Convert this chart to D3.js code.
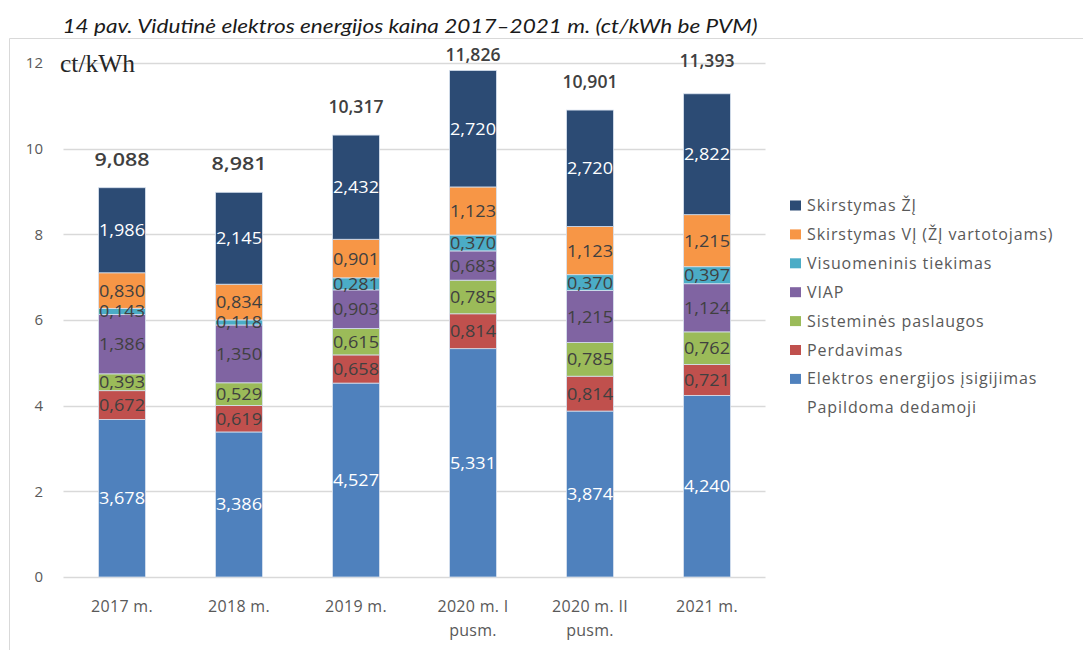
<!DOCTYPE html>
<html><head><meta charset="utf-8">
<script src="https://cdn.jsdelivr.net/npm/d3@7"></script>
<style>body{margin:0;background:#fff}svg{display:block}</style>
</head><body>
<svg id="c" width="1083" height="650"></svg>
<script>
const categories = ["2017 m.", "2018 m.", "2019 m.", "2020 m. I|pusm.", "2020 m. II|pusm.", "2021 m."];
const seriesNames = ["Elektros energijos įsigijimas", "Perdavimas", "Sisteminės paslaugos", "VIAP", "Visuomeninis tiekimas", "Skirstymas VĮ (ŽĮ vartotojams)", "Skirstymas ŽĮ", "Papildoma dedamoji"];
const elektros   = [3.678, 3.386, 4.527, 5.331, 3.874, 4.240];
const perdavimas = [0.672, 0.619, 0.658, 0.814, 0.814, 0.721];
const sistemines = [0.393, 0.529, 0.615, 0.785, 0.785, 0.762];
const viap       = [1.386, 1.350, 0.903, 0.683, 1.215, 1.124];
const visuomen   = [0.143, 0.118, 0.281, 0.370, 0.370, 0.397];
const skirstVI   = [0.830, 0.834, 0.901, 1.123, 1.123, 1.215];
const skirstZI   = [1.986, 2.145, 2.432, 2.720, 2.720, 2.822];
const papildoma  = [0, 0, 0, 0, 0, 0.112];
const totals     = [9.088, 8.981, 10.317, 11.826, 10.901, 11.393];
const yTicks = [0, 2, 4, 6, 8, 10, 12];
const colors = ["#4F81BD", "#C0504D", "#9BBB59", "#8064A2", "#4BACC6", "#F79646", "#2C4B74", "none"];
const labelColors = ["#ffffff", "#404040", "#404040", "#404040", "#404040", "#404040", "#ffffff", "none"];

const seriesValues = [elektros, perdavimas, sistemines, viap, visuomen, skirstVI, skirstZI, papildoma];
const fmt = v => v.toFixed(3).replace(".", ",");

const svg = d3.select("#c");
// chart frame
svg.append("line").attr("x1", 9.5).attr("x2", 1083).attr("y1", 38.5).attr("y2", 38.5).attr("stroke", "#d9d9d9");
svg.append("line").attr("x1", 9.5).attr("x2", 9.5).attr("y1", 38.5).attr("y2", 650).attr("stroke", "#d9d9d9");

// title
svg.append("text").attr("x", 410).attr("y", 33).attr("text-anchor", "middle")
  .attr("font-family", "Lato").attr("font-style", "italic").attr("font-size", 20)
  .attr("fill", "#1a1a1a").attr("textLength", 695).attr("lengthAdjust", "spacingAndGlyphs")
  .text("14 pav. Vidutinė elektros energijos kaina 2017–2021 m. (ct/kWh be PVM)");

const x = d3.scaleBand().domain(categories).range([63.5, 765.5]).paddingInner(0.6).paddingOuter(0.3);
const y = d3.scaleLinear().domain([0, 12]).range([577, 63]);

// gridlines
svg.append("g").selectAll("line").data(yTicks).join("line")
  .attr("x1", 63.5).attr("x2", 765.5)
  .attr("y1", d => Math.round(y(d)) + 0.5).attr("y2", d => Math.round(y(d)) + 0.5)
  .attr("stroke", "#d9d9d9").attr("stroke-width", 1.3);

// y axis labels
const yAxis = d3.axisLeft(y).tickValues(yTicks).tickSize(0).tickPadding(0).tickFormat(d3.format("d"));
const ya = svg.append("g").attr("transform", "translate(43,0)").call(yAxis);
ya.select(".domain").remove();
ya.selectAll("text").attr("font-family", "Open Sans").attr("font-size", 15).attr("fill", "#595959");

// unit label
svg.append("text").attr("x", 60).attr("y", 72).attr("font-family", "Liberation Serif")
  .attr("font-size", 25.5).attr("fill", "#262626").text("ct/kWh");

// stacks
const rows = categories.map((c, i) => {
  const r = { cat: c };
  seriesValues.forEach((s, k) => r["s" + k] = s[i]);
  return r;
});
const keys = seriesValues.map((_, k) => "s" + k);
const stacked = d3.stack().keys(keys)(rows);

const bw = x.bandwidth();
stacked.forEach((layer, k) => {
  if (colors[k] === "none") return;
  svg.append("g").selectAll("rect").data(layer).join("rect")
    .attr("x", d => x(d.data.cat))
    .attr("y", d => y(d[1]))
    .attr("width", bw)
    .attr("height", d => y(d[0]) - y(d[1]))
    .attr("fill", colors[k])
    .attr("stroke", "#d6e0ee")
    .attr("stroke-width", 0.8);
});

// segment labels
stacked.forEach((layer, k) => {
  if (colors[k] === "none") return;
  svg.append("g").selectAll("text").data(layer).join("text")
    .attr("x", d => x(d.data.cat) + bw / 2)
    .attr("y", d => (y(d[0]) + y(d[1])) / 2 + 6)
    .attr("text-anchor", "middle")
    .attr("font-family", "Open Sans").attr("font-size", 16)
    .attr("fill", labelColors[k])
    .attr("textLength", 46).attr("lengthAdjust", "spacingAndGlyphs")
    .text(d => fmt(d[1] - d[0]));
});

// totals
svg.append("g").selectAll("text").data(categories).join("text")
  .attr("x", d => x(d) + bw / 2)
  .attr("y", (d, i) => Math.max(y(totals[i]) - 28.5, 54) + 6.5)
  .attr("text-anchor", "middle")
  .attr("font-family", "Open Sans").attr("font-weight", 600).attr("font-size", 17.5)
  .attr("fill", "#404040")
  .attr("textLength", 55).attr("lengthAdjust", "spacingAndGlyphs")
  .text((d, i) => fmt(totals[i]));

// x labels
const xl = svg.append("g").selectAll("text").data(categories).join("text")
  .attr("x", d => x(d) + bw / 2)
  .attr("y", 612)
  .attr("text-anchor", "middle")
  .attr("font-family", "Open Sans").attr("font-size", 16).attr("fill", "#595959")
  .attr("letter-spacing", 0.3);
xl.each(function(d) {
  const parts = d.split("|");
  const t = d3.select(this);
  parts.forEach((p, j) => t.append("tspan").attr("x", x(d) + bw / 2).attr("dy", j === 0 ? 0 : 24).text(p));
});

// legend
const legendOrder = [6, 5, 4, 3, 2, 1, 0, 7];
const lg = svg.append("g").selectAll("g").data(legendOrder).join("g")
  .attr("transform", (d, i) => `translate(790, ${205.5 + i * 28.9})`);
lg.append("rect").attr("x", 0).attr("y", -5).attr("width", 11).attr("height", 10)
  .attr("fill", d => colors[d]);
lg.append("text").attr("x", 17).attr("y", 5.5)
  .attr("font-family", "Open Sans").attr("font-size", 16).attr("fill", "#595959")
  .attr("letter-spacing", 0.9)
  .text(d => seriesNames[d]);
</script>
</body></html>
